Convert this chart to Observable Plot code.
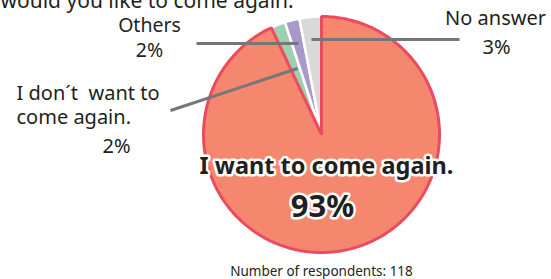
<!DOCTYPE html>
<html>
<head>
<meta charset="utf-8">
<script src="https://cdn.jsdelivr.net/npm/d3@7"></script>
<script src="https://cdn.jsdelivr.net/npm/@observablehq/plot@0.6"></script>
<style>
  html, body { margin: 0; padding: 0; background: #fff; }
  #chart svg { display: block; }
</style>
</head>
<body>
<div id="chart"></div>
<script>
// Data
const categories = ["I want to come again.", "I don´t  want to come again.", "Others", "No answer"];
const percents = [93, 2, 2, 3];
const percentLabels = ["93%", "2%", "2%", "3%"];
const colors = ["#f5876f", "#9dcfb1", "#a898cc", "#d9d9d9"];
const titleText = "would you like to come again.";
const footerText = "Number of respondents: 118";

// Layout
const W = 551, H = 279;
const cx = 321, cy = 134, R = 118;
const font = "Noto Sans, Open Sans, sans-serif";

const arcs = d3.pie().sort(null).value(d => d)(percents);
function slicePoints(a, i) {
  const pts = [{x: cx, y: cy, k: i}];
  const n = Math.max(4, Math.ceil((a.endAngle - a.startAngle) / 0.02));
  for (let j = 0; j <= n; j++) {
    const t = a.startAngle + (a.endAngle - a.startAngle) * j / n;
    pts.push({x: cx + R * Math.sin(t), y: cy - R * Math.cos(t), k: i});
  }
  return pts;
}
const sliceMarks = [];
arcs.forEach((a, i) => {
  if (i === 0) return;
  sliceMarks.push(Plot.line(slicePoints(a, i), {x: "x", y: "y", curve: "linear-closed", fill: colors[i], stroke: "#fff", strokeWidth: 2.5, strokeLinejoin: "miter"}));
});
sliceMarks.push(Plot.line(slicePoints(arcs[0], 0), {x: "x", y: "y", curve: "linear-closed", fill: colors[0], stroke: "#ec4b5f", strokeWidth: 3, strokeLinejoin: "miter"}));

const leaders = [
  {x1: 170, y1: 110, x2: 297, y2: 68},
  {x1: 196, y1: 43, x2: 298, y2: 43},
  {x1: 311, y1: 39, x2: 459, y2: 39}
];

const labels = [
  {x: 16, y: 99, t: "I don´t  want to", a: "start", s: 20},
  {x: 16, y: 123, t: "come again.", a: "start", s: 20},
  {x: 116, y: 152, t: percentLabels[1], a: "middle", s: 20},
  {x: 149, y: 31, t: categories[2], a: "middle", s: 19.5},
  {x: 149, y: 56, t: percentLabels[2], a: "middle", s: 19.5},
  {x: 495, y: 24, t: categories[3], a: "middle", s: 20},
  {x: 496, y: 53, t: percentLabels[3], a: "middle", s: 20},
  {x: 0, y: 7, t: titleText, a: "start", s: 21},
  {x: 321, y: 275, t: footerText, a: "middle", s: 13.5}
];

const plot = Plot.plot({
  width: W, height: H,
  margin: 0,
  x: {domain: [0, W], range: [0, W], axis: null},
  y: {domain: [0, H], range: [0, H], axis: null},
  style: {fontFamily: font, background: "#fff"},
  marks: [
    ...sliceMarks,
    Plot.link(leaders, {x1: "x1", y1: "y1", x2: "x2", y2: "y2", stroke: "#777", strokeWidth: 3}),
    ...labels.map(l => Plot.text([l], {x: "x", y: "y", text: "t", textAnchor: l.a, lineAnchor: "bottom", fontSize: l.s, fill: "#231f20"})),
    Plot.text([{x: 326, y: 173, t: categories[0]}], {x: "x", y: "y", text: "t", lineAnchor: "bottom", fontSize: 23.5, fontWeight: "bold", fill: "#231f20", stroke: "#fff", strokeWidth: 5, letterSpacing: "-0.6px"}),
    Plot.text([{x: 322, y: 216, t: percentLabels[0]}], {x: "x", y: "y", text: "t", lineAnchor: "bottom", fontSize: 31, fontWeight: "bold", fill: "#231f20", stroke: "#fff", strokeWidth: 5})
  ]
});
document.getElementById("chart").appendChild(plot);
</script>
</body>
</html>
